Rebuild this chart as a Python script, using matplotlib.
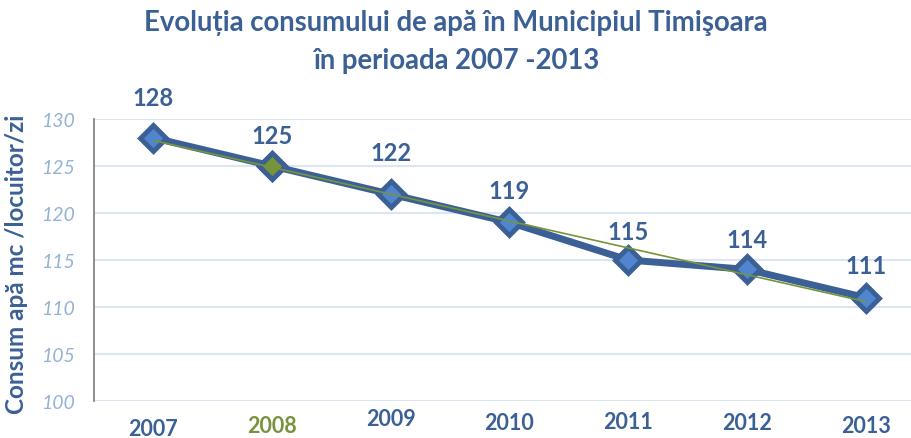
import matplotlib.pyplot as plt
import numpy as np

years = ['2007', '2008', '2009', '2010', '2011', '2012', '2013']
consum = [128, 125, 122, 119, 115, 114, 111]
# small vertical shifts of the year labels and value labels, in points
year_shift = [0, 2, 7, 4, 5, 4, 2]
label_lift = [21, 14, 22, 15, 12, 13, 15]

blue = '#3B6096'
fill = '#4F86CF'
green = '#77933C'

plt.rcParams['font.family'] = ['Lato', 'DejaVu Sans']

fig = plt.figure(figsize=(9.12, 4.39), dpi=100)
ax = fig.add_axes([94 / 912, 37 / 439, 831 / 912, 282 / 439])

x = np.arange(len(years))
ax.plot(x, consum, color=blue, lw=5, marker='D', ms=13,
        mfc=fill, mec=blue, mew=3.5, zorder=3, solid_joinstyle='round')
# 2008 point highlighted in green
ax.plot(x[1], consum[1], ls='none', marker='D', ms=13,
        mfc=green, mec=blue, mew=3.5, zorder=4)

# linear trend
k, b = np.polyfit(x, consum, 1)
ax.plot(x, k * x + b, color=green, lw=1.2, zorder=5)

for xi, v, lift in zip(x, consum, label_lift):
    ax.annotate(str(v), (xi, v), xytext=(0, lift), textcoords='offset points',
                ha='center', va='bottom', fontsize=17, fontweight='bold',
                color=blue)

ax.set_xlim(-0.5, 6.5)
ax.set_ylim(100, 130)
ax.set_yticks(range(100, 131, 5))
ax.set_xticks(x)
ax.set_xticklabels([])
for xi, lab, s in zip(x, years, year_shift):
    ax.annotate(lab, (xi, 100), xytext=(0, -12 + s), textcoords='offset points',
                ha='center', va='top', fontsize=15.5, fontweight='bold',
                color=green if lab == '2008' else blue, annotation_clip=False)

ax.tick_params(axis='x', length=0)
ax.tick_params(axis='y', length=0, pad=14, labelsize=14, labelcolor='#95B3D7')
for t in ax.get_yticklabels():
    t.set_fontstyle('italic')
ax.grid(axis='y', color='#DCE6F2', lw=1.5)
ax.set_axisbelow(True)
for s in ['top', 'right', 'bottom']:
    ax.spines[s].set_visible(False)
ax.spines['left'].set_color('#868686')
ax.spines['left'].set_linewidth(1.3)

ax.set_ylabel('Consum apă mc /locuitor/zi', fontsize=17.5, fontweight='bold',
              color=blue)
ax.yaxis.set_label_coords(-66 / 831, 0.49)

fig.text(0.5, 0.948, 'Evoluția consumului de apă în Municipiul Timişoara',
         ha='center', va='center', fontsize=19.8, fontweight='bold', color=blue)
fig.text(0.5, 0.862, 'în perioada 2007 -2013',
         ha='center', va='center', fontsize=19.8, fontweight='bold', color=blue)

fig.savefig('out.png', dpi=100)
